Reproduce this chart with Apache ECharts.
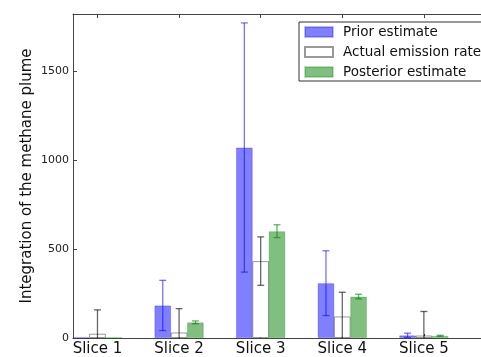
<!DOCTYPE html>
<html>
<head>
<meta charset="utf-8">
<script src="https://cdn.jsdelivr.net/npm/echarts@6/dist/echarts.min.js"></script>
<style>
  html, body { margin: 0; padding: 0; background: #ffffff; }
  #chart { width: 481px; height: 357px; }
</style>
</head>
<body>
<div id="chart"></div>
<script>
// Slice categories and tick labels
const slices = ['Slice 1', 'Slice 2', 'Slice 3', 'Slice 4', 'Slice 5'];
const sliceTicks = [0, 1, 2, 3, 4];
const yTicks = [0, 500, 1000, 1500];

// Prior estimate (value and error half-width)
const priorValues = [3, 183, 1070, 308, 15];
const priorErrors = [0, 141, 700, 182, 12];

// Actual emission rate
const actualValues = [24, 31, 432, 121, 14];
const actualErrors = [134, 134, 136, 136, 135];

// Posterior estimate
const posteriorValues = [2, 88, 600, 233, 12];
const posteriorErrors = [0, 8, 36, 13, 3];

const BAR_OFFSET = 0.2;   // distance between grouped bars, in slice units
const BAR_WIDTH = 16.75;  // px

const BLUE = 'rgba(0,0,255,0.5)';
const GREEN = 'rgba(0,128,0,0.5)';
const GREY_EDGE = 'rgba(0,0,0,0.4)';

function barData(values, offset) {
  return values.map((v, i) => [sliceTicks[i] + offset, v]);
}

function errorSeries(values, errors, offset, color) {
  return {
    type: 'custom',
    silent: true,
    z: 5,
    data: values.map((v, i) => [sliceTicks[i] + offset, v, errors[i]]),
    renderItem(params, api) {
      const x = api.value(0), v = api.value(1), e = api.value(2);
      if (!e) return null;
      const cs = params.coordSys;
      const bottomY = cs.y + cs.height;
      const top = api.coord([x, v + e]);
      const low = v - e;
      const bot = api.coord([x, Math.max(low, 0)]);
      const half = 3.5;
      const style = { stroke: color, lineWidth: 1.3 };
      const children = [
        { type: 'line', shape: { x1: top[0], y1: top[1], x2: top[0], y2: Math.min(bot[1], bottomY) }, style },
        { type: 'line', shape: { x1: top[0] - half, y1: top[1], x2: top[0] + half, y2: top[1] }, style }
      ];
      if (low > 0) {
        children.push({ type: 'line', shape: { x1: bot[0] - half, y1: bot[1], x2: bot[0] + half, y2: bot[1] }, style });
      }
      return { type: 'group', children };
    }
  };
}

const axisLineStyle = { color: '#444', width: 1 };
const font = 'DejaVu Sans';

const chart = echarts.init(document.getElementById('chart'), null, { renderer: 'canvas' });

chart.setOption({
  animation: false,
  backgroundColor: '#ffffff',
  grid: { left: 73, top: 14, width: 418.75, height: 326, containLabel: false },
  xAxis: [
    {
      type: 'value',
      position: 'bottom',
      min: -0.3,
      max: 4.7,
      axisLine: { show: true, onZero: false, lineStyle: axisLineStyle },
      axisTick: { show: true, inside: true, length: 4, customValues: sliceTicks, lineStyle: axisLineStyle },
      axisLabel: {
        show: true, customValues: sliceTicks, margin: 4,
        formatter: v => slices[Math.round(v)] || '',
        color: '#111', fontFamily: font, fontSize: 15
      },
      splitLine: { show: false }
    },
    {
      type: 'value',
      position: 'top',
      min: -0.3,
      max: 4.7,
      axisLine: { show: true, onZero: false, lineStyle: axisLineStyle },
      axisTick: { show: true, inside: true, length: 4, customValues: sliceTicks, lineStyle: axisLineStyle },
      axisLabel: { show: false, customValues: sliceTicks },
      splitLine: { show: false }
    }
  ],
  yAxis: {
    type: 'value',
    min: 0,
    max: 1820,
    name: 'Integration of the methane plume',
    nameLocation: 'middle',
    nameRotate: 90,
    nameGap: 38,
    nameMoveOverlap: false,
    nameTextStyle: { color: '#111', fontFamily: font, fontSize: 15 },
    axisLine: { show: true, onZero: false, lineStyle: axisLineStyle },
    axisTick: { show: true, inside: true, length: 4, customValues: yTicks, lineStyle: axisLineStyle },
    axisLabel: {
      customValues: yTicks, margin: 4, formatter: v => String(v),
      color: '#222', fontFamily: font, fontSize: 11
    },
    splitLine: { show: false }
  },
  legend: {
    orient: 'vertical',
    left: 299,
    top: 22,
    padding: [3, 8, 2, 5],
    itemWidth: 28,
    itemHeight: 10,
    itemGap: 6,
    icon: 'rect',
    backgroundColor: '#ffffff',
    borderColor: '#333',
    borderWidth: 1,
    borderRadius: 0,
    textStyle: { color: '#111', fontFamily: font, fontSize: 13.5, padding: [0, 0, 0, 5] },
    data: ['Prior estimate', 'Actual emission rate', 'Posterior estimate']
  },
  series: [
    {
      name: 'Prior estimate',
      type: 'bar',
      barWidth: BAR_WIDTH,
      barGap: '-100%',
      data: barData(priorValues, -BAR_OFFSET),
      itemStyle: { color: BLUE, borderColor: 'rgba(0,0,255,0.25)', borderWidth: 1 }
    },
    {
      name: 'Actual emission rate',
      type: 'bar',
      barWidth: BAR_WIDTH,
      barGap: '-100%',
      data: barData(actualValues, 0),
      itemStyle: { color: '#ffffff', borderColor: GREY_EDGE, borderWidth: 1 }
    },
    {
      name: 'Posterior estimate',
      type: 'bar',
      barWidth: BAR_WIDTH,
      barGap: '-100%',
      data: barData(posteriorValues, BAR_OFFSET),
      itemStyle: { color: GREEN, borderColor: 'rgba(0,128,0,0.25)', borderWidth: 1 }
    },
    errorSeries(priorValues, priorErrors, -BAR_OFFSET, 'rgba(0,0,255,0.55)'),
    errorSeries(actualValues, actualErrors, 0, 'rgba(0,0,0,0.6)'),
    errorSeries(posteriorValues, posteriorErrors, BAR_OFFSET, 'rgba(0,128,0,0.6)')
  ]
});
</script>
</body>
</html>
